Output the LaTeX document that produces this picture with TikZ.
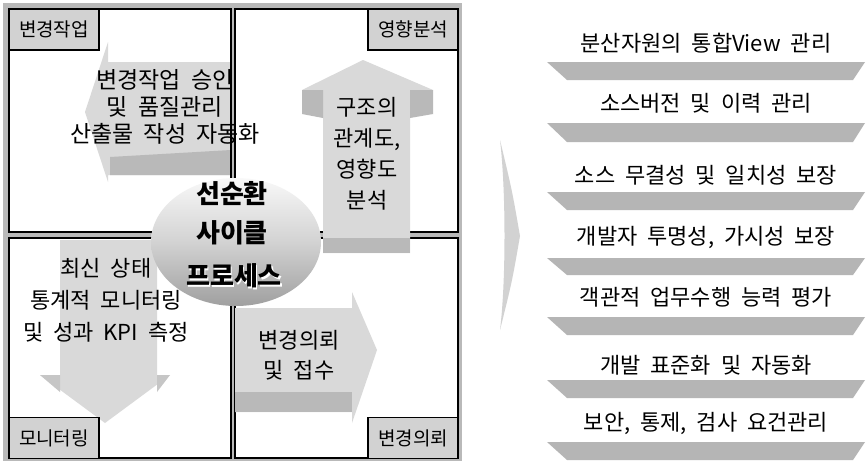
\documentclass[tikz,border=0pt]{standalone}
\usepackage{fontspec}
\setmainfont{Noto Sans CJK KR}[WordSpace=2]
\begin{document}
\begin{tikzpicture}[x=1pt,y=-1pt,
  quad/.style={draw=black,line width=1.6pt,fill=white},
  lbl/.style={draw=black,line width=1.2pt,fill=gray!35,minimum width=90pt,minimum height=41pt,inner sep=0pt,font=\fontsize{19}{19}\selectfont},
  arrowfill/.style={fill=gray!30},
  arrowdark/.style={fill=gray!55},
  earshade/.style={fill=gray!45},
  atext/.style={align=center,inner sep=0pt},
  bar/.style={fill=gray!58},
  btext/.style={inner sep=0pt,font=\fontsize{22}{22}\selectfont},
  ctext/.style={inner sep=0pt,font=\fontsize{26}{26}\selectfont\bfseries}]
\useasboundingbox (0,0) rectangle (868,463);
\fill[white] (0,0) rectangle (868,463);
% frame and quadrants
\fill[gray!55] (3,3) rectangle (462,461);
\draw[quad] (9,9) rectangle (231,232);
\draw[quad] (235,9) rectangle (458,232);
\draw[quad] (9,238) rectangle (231,458);
\draw[quad] (235,238) rectangle (458,458);
% top-left arrow (left)
\fill[arrowfill] (231,62) -- (108,62) -- (108,42) -- (85,112) -- (108,182) -- (108,175) -- (231,175) -- cycle;
\fill[arrowdark] (110,157) -- (231,150) -- (231,175) -- (110,175) -- cycle;
\draw[black,line width=1.6pt] (231,9) -- (231,232);
% top-right arrow (up)
\fill[arrowfill] (323,253) -- (323,90) -- (302,90) -- (363,60) -- (433,90) -- (410,90) -- (410,253) -- cycle;
\fill[arrowdark] (302,90) -- (323,90) -- (323,118) -- (302,114) -- cycle;
\fill[arrowdark] (410,90) -- (433,90) -- (433,114) -- (410,118) -- cycle;
\fill[arrowdark] (323,238) -- (410,238) -- (410,253) -- (323,253) -- cycle;
% bottom-right arrow (right)
\fill[arrowfill] (235,308) -- (352,308) -- (352,292) -- (377,350) -- (352,423) -- (352,412) -- (235,412) -- cycle;
\fill[arrowdark] (235,392) -- (352,392) -- (352,412) -- (235,412) -- cycle;
% bottom-left arrow (down)
\fill[arrowfill] (60,240) -- (157,240) -- (157,375) -- (170,375) -- (105,423) -- (40,375) -- (60,375) -- cycle;
\fill[earshade] (40,375) -- (60,375) -- (60,392) -- cycle;
\fill[earshade] (157,375) -- (170,375) -- (157,392) -- cycle;
% centre ellipse
\shade[top color=gray!5, bottom color=gray!75, middle color=gray!35] (236,242) ellipse [x radius=85, y radius=64];
% arrow texts
\node[atext,font=\fontsize{23}{27}\selectfont] (tlt) at (165,107) {변경작업 승인\\및 품질관리\\산출물 작성 자동화};
\node[atext,font=\fontsize{22}{31}\selectfont] (trt) at (367,154) {구조의\\관계도,\\영향도\\분석};
\node[atext,font=\fontsize{22}{32}\selectfont] (blt) at (106,300) {최신 상태\\통계적 모니터링\\및 성과 KPI 측정};
\node[atext,font=\fontsize{22}{30}\selectfont] (brt) at (299,355) {변경의뢰\\및 접수};
% centre texts
\node[ctext] (c1) at (232,194) {선순환};
\node[ctext] (c2) at (232,233) {사이클};
\node[ctext,text=white] (c3s) at (235.5,277.5) {프로세스};
\node[ctext] (c3) at (234,276) {프로세스};
% corner labels
\node[lbl] (l1) at (54,29.5) {변경작업};
\node[lbl] (l2) at (413,29.5) {영향분석};
\node[lbl] (l3) at (54,438) {모니터링};
\node[lbl] (l4) at (413,438) {변경의뢰};
% chevron
\fill[gray!35] (500,140) .. controls (512,190) .. (520,236) .. controls (512,282) .. (500,330) .. controls (506,282) and (506,190) .. (500,140) -- cycle;
% bars
\foreach \t/\b in {62/80,123/142,192/210,258/275,317/335,380/398,442/460}{
  \fill[bar] (547,\t) -- (865,\t) -- (853,\b) -- (567,\b) -- cycle;
}
% list texts
\node[btext] (r1) at (706,43) {분산자원의 통합View 관리};
\node[btext] (r2) at (706,103) {소스버전 및 이력 관리};
\node[btext] (r3) at (706,175) {소스 무결성 및 일치성 보장};
\node[btext] (r4) at (706,237) {개발자 투명성, 가시성 보장};
\node[btext] (r5) at (706,297) {객관적 업무수행 능력 평가};
\node[btext] (r6) at (706,365) {개발 표준화 및 자동화};
\node[btext] (r7) at (706,423) {보안, 통제, 검사 요건관리};
\end{tikzpicture}
\end{document}
